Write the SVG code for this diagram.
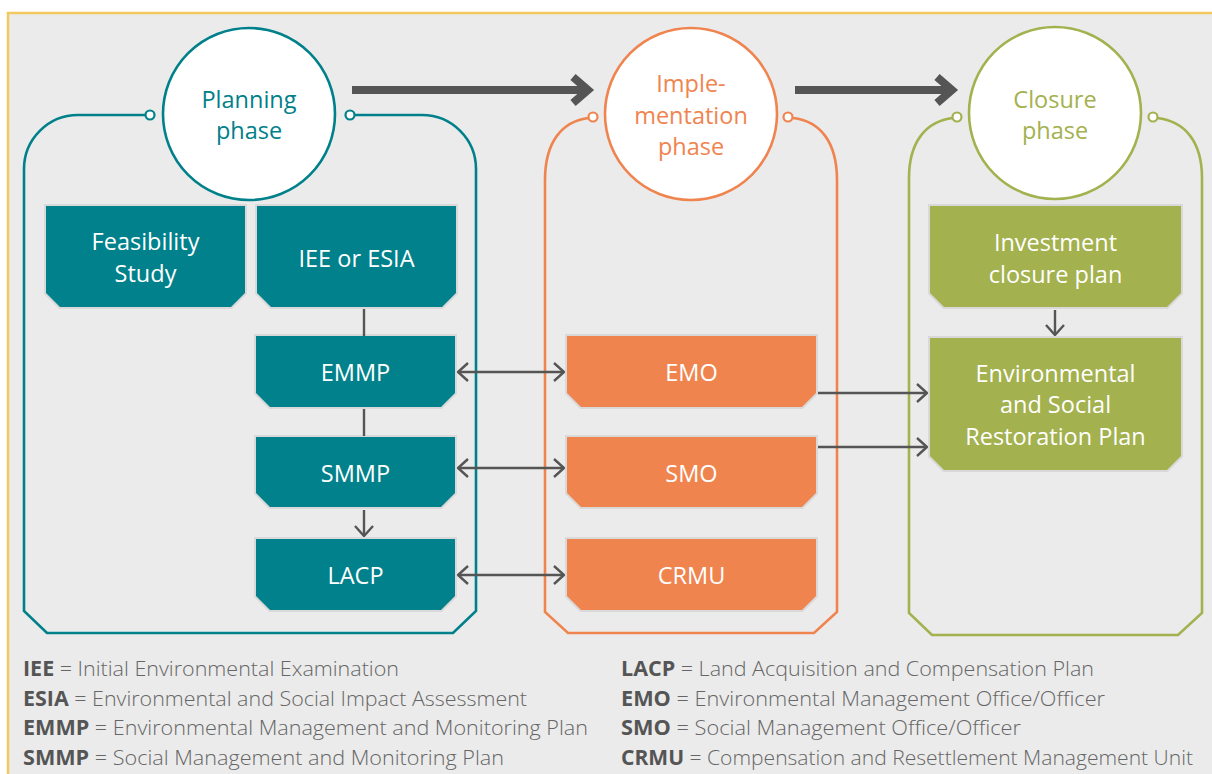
<svg xmlns="http://www.w3.org/2000/svg" width="1212" height="774" viewBox="0 0 1212 774">
  <defs>
    <marker id="chev" viewBox="0 0 12 20" refX="11" refY="10" markerUnits="userSpaceOnUse" markerWidth="12" markerHeight="20" orient="auto-start-reverse">
      <path d="M1,1 L11,10 L1,19" fill="none" stroke="#555" stroke-width="2.4"/>
    </marker>
    <style>
      .phase { fill: #fff; stroke-width: 2.6; }
      .frame { fill: none; stroke-width: 2.6; stroke-linejoin: miter; }
      .dot { fill: #fff; stroke-width: 2.2; }
      .teal { stroke: #00808a; }
      .orange { stroke: #f0844f; }
      .green { stroke: #a3b14e; }
      .box { stroke: #d9d9d9; stroke-width: 4; paint-order: stroke; stroke-linejoin: miter; }
      .boxT { fill: #00818b; }
      .boxO { fill: #f0844f; }
      .boxG { fill: #a3b14e; }
      .ptitle { font-family: "Open Sans", "Noto Sans", sans-serif; font-size: 23.5px; text-anchor: middle; }
      .label { font-family: "Open Sans", "Noto Sans", sans-serif; font-size: 23.5px; fill: #fff; text-anchor: middle; }
      .link { fill: none; stroke: #555; stroke-width: 2.4; }
      .big { fill: none; stroke: #555; stroke-width: 8; }
      .legend { font-family: "Open Sans", "Noto Sans", sans-serif; font-size: 21px; font-weight: 300; fill: #666; }
      .legend tspan.k { font-weight: 700; fill: #555; }
    </style>
  </defs>

  <!-- page background with yellow rule -->
  <rect x="8" y="13" width="1212" height="775" fill="#ebebeb" stroke="#f3c95f" stroke-width="2.5"/>

  <!-- phase frames -->
  <g id="planning-frame">
    <path class="frame teal" d="M146,115 H78 A54,54 0 0 0 24,169 V611 L47,633 H453 L476,611 V169 A54,54 0 0 0 422,115 H354"/>
    <circle class="dot teal" cx="150" cy="115" r="4.5"/>
    <circle class="dot teal" cx="350" cy="115" r="4.5"/>
  </g>
  <g id="implementation-frame">
    <path class="frame orange" d="M589,118 C562,121 545,142 545,180 V612 L568,633 H814 L837,612 V180 C837,142 820,121 793,118"/>
    <circle class="dot orange" cx="593" cy="117" r="4.5"/>
    <circle class="dot orange" cx="788" cy="117" r="4.5"/>
  </g>
  <g id="closure-frame">
    <path class="frame green" d="M953,118 C926,121 909,142 909,178 V613 L932,635 H1178 L1202,613 V178 C1202,142 1185,121 1157,118"/>
    <circle class="dot green" cx="957" cy="117" r="4.5"/>
    <circle class="dot green" cx="1153" cy="117" r="4.5"/>
  </g>

  <!-- phase circles -->
  <g id="planning-phase">
    <circle class="phase teal" cx="249" cy="114" r="86"/>
    <text class="ptitle" fill="#00808a" x="249" y="108">Planning</text>
    <text class="ptitle" fill="#00808a" x="249" y="139">phase</text>
  </g>
  <g id="implementation-phase">
    <circle class="phase orange" cx="691" cy="114" r="86"/>
    <text class="ptitle" fill="#f0844f" x="691" y="92">Imple-</text>
    <text class="ptitle" fill="#f0844f" x="691" y="124">mentation</text>
    <text class="ptitle" fill="#f0844f" x="691" y="155">phase</text>
  </g>
  <g id="closure-phase">
    <circle class="phase green" cx="1055" cy="113" r="86"/>
    <text class="ptitle" fill="#a3b14e" x="1055" y="108">Closure</text>
    <text class="ptitle" fill="#a3b14e" x="1055" y="139">phase</text>
  </g>

  <!-- planning documents -->
  <g id="feasibility-study">
    <path class="box boxT" d="M46,206 H245 V293 L231,307 H60 L46,293 Z"/>
    <text class="label" x="145.5" y="250">Feasibility</text>
    <text class="label" x="145.5" y="282">Study</text>
  </g>
  <g id="iee-esia">
    <path class="box boxT" d="M257,206 H456 V293 L442,307 H271 L257,293 Z"/>
    <text class="label" x="356.5" y="267">IEE or ESIA</text>
  </g>
  <g id="emmp">
    <path class="box boxT" d="M256,336 H455 V393 L441,407 H270 L256,393 Z"/>
    <text class="label" x="355.5" y="381">EMMP</text>
  </g>
  <g id="smmp">
    <path class="box boxT" d="M256,437 H455 V493 L441,507 H270 L256,493 Z"/>
    <text class="label" x="355.5" y="482">SMMP</text>
  </g>
  <g id="lacp">
    <path class="box boxT" d="M256,539 H455 V596 L441,610 H270 L256,596 Z"/>
    <text class="label" x="355.5" y="584">LACP</text>
  </g>

  <!-- implementation offices -->
  <g id="emo">
    <path class="box boxO" d="M567,336 H816 V393 L802,407 H581 L567,393 Z"/>
    <text class="label" x="691.5" y="381">EMO</text>
  </g>
  <g id="smo">
    <path class="box boxO" d="M567,437 H816 V493 L802,507 H581 L567,493 Z"/>
    <text class="label" x="691.5" y="482">SMO</text>
  </g>
  <g id="crmu">
    <path class="box boxO" d="M567,539 H816 V596 L802,610 H581 L567,596 Z"/>
    <text class="label" x="691.5" y="584">CRMU</text>
  </g>

  <!-- closure plans -->
  <g id="investment-closure-plan">
    <path class="box boxG" d="M930,206 H1181 V293 L1167,307 H944 L930,293 Z"/>
    <text class="label" x="1055.5" y="251">Investment</text>
    <text class="label" x="1055.5" y="283">closure plan</text>
  </g>
  <g id="restoration-plan">
    <path class="box boxG" d="M930,338 H1181 V456 L1167,470 H944 L930,456 Z"/>
    <text class="label" x="1055.5" y="382">Environmental</text>
    <text class="label" x="1055.5" y="413">and Social</text>
    <text class="label" x="1055.5" y="445">Restoration Plan</text>
  </g>

  <!-- connectors -->
  <g id="connectors">
    <path class="big" d="M352,90 H585"/>
    <path class="big" d="M573,77 L588,90 L573,103" stroke-width="7"/>
    <path class="big" d="M795,90 H949"/>
    <path class="big" d="M937,77 L952,90 L937,103" stroke-width="7"/>

    <path class="link" d="M364,309 V336"/>
    <path class="link" d="M364,409 V436"/>
    <path class="link" d="M364,510 V536" marker-end="url(#chev)"/>
    <path class="link" d="M458,372 H564" marker-start="url(#chev)" marker-end="url(#chev)"/>
    <path class="link" d="M458,468 H564" marker-start="url(#chev)" marker-end="url(#chev)"/>
    <path class="link" d="M458,575 H564" marker-start="url(#chev)" marker-end="url(#chev)"/>
    <path class="link" d="M818,393 H927" marker-end="url(#chev)"/>
    <path class="link" d="M818,447 H927" marker-end="url(#chev)"/>
    <path class="link" d="M1055,310 V335" marker-end="url(#chev)"/>
  </g>

  <!-- abbreviations -->
  <g id="legend">
    <text class="legend" x="23" y="676" textLength="376" lengthAdjust="spacingAndGlyphs"><tspan class="k">IEE</tspan> = Initial Environmental Examination</text>
    <text class="legend" x="23" y="706" textLength="504" lengthAdjust="spacingAndGlyphs"><tspan class="k">ESIA</tspan> = Environmental and Social Impact Assessment</text>
    <text class="legend" x="23" y="735" textLength="565" lengthAdjust="spacingAndGlyphs"><tspan class="k">EMMP</tspan> = Environmental Management and Monitoring Plan</text>
    <text class="legend" x="23" y="765" textLength="481" lengthAdjust="spacingAndGlyphs"><tspan class="k">SMMP</tspan> = Social Management and Monitoring Plan</text>
    <text class="legend" x="621" y="676" textLength="473" lengthAdjust="spacingAndGlyphs"><tspan class="k">LACP</tspan> = Land Acquisition and Compensation Plan</text>
    <text class="legend" x="621" y="706" textLength="484" lengthAdjust="spacingAndGlyphs"><tspan class="k">EMO</tspan> = Environmental Management Office/Officer</text>
    <text class="legend" x="621" y="735" textLength="400" lengthAdjust="spacingAndGlyphs"><tspan class="k">SMO</tspan> = Social Management Office/Officer</text>
    <text class="legend" x="621" y="765" textLength="572" lengthAdjust="spacingAndGlyphs"><tspan class="k">CRMU</tspan> = Compensation and Resettlement Management Unit</text>
  </g>
</svg>
